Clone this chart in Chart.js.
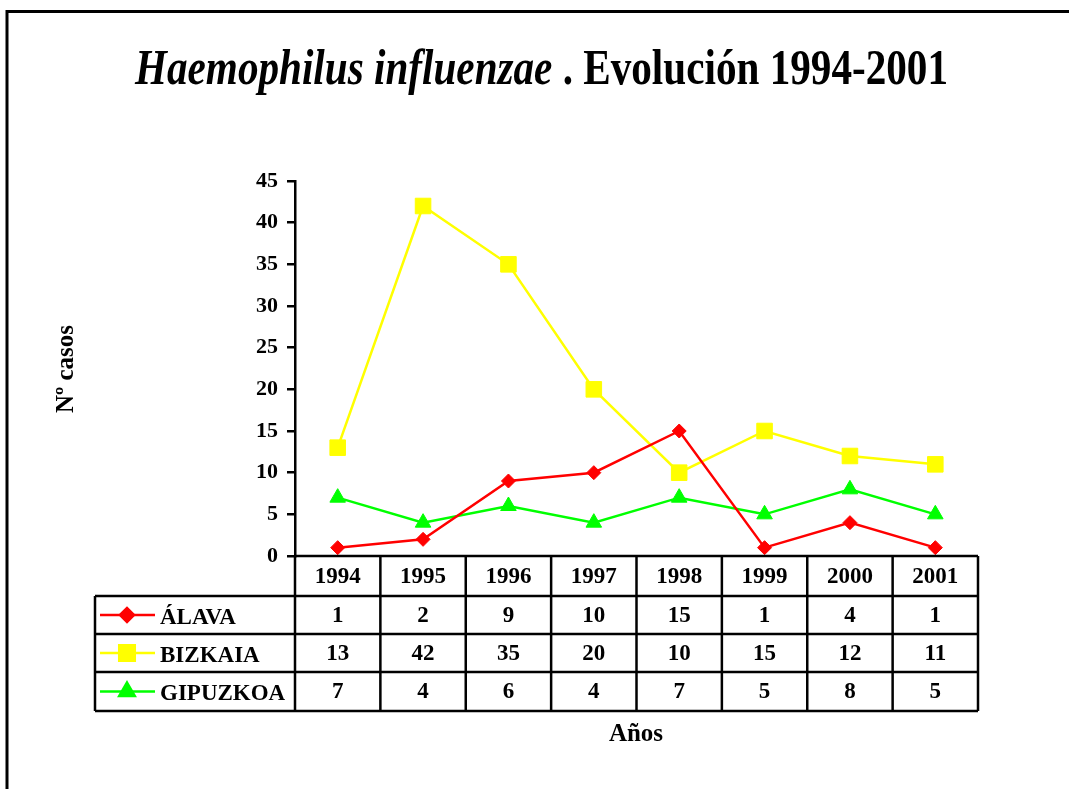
<!DOCTYPE html>
<html lang="es">
<head>
<meta charset="utf-8">
<title>Haemophilus influenzae. Evolución 1994-2001</title>
<script src="https://cdn.jsdelivr.net/npm/chart.js@4/dist/chart.umd.min.js"></script>
<style>
  html, body { margin: 0; padding: 0; background: #fff; }
  #wrap { width: 1069px; height: 789px; position: relative; }
</style>
</head>
<body>
<div id="wrap"><canvas id="grafico"></canvas></div>
<script>
const anios = ['1994', '1995', '1996', '1997', '1998', '1999', '2000', '2001'];
const alava = [1, 2, 9, 10, 15, 1, 4, 1];
const bizkaia = [13, 42, 35, 20, 10, 15, 12, 11];
const gipuzkoa = [7, 4, 6, 4, 7, 5, 8, 5];
const territorios = ['ÁLAVA', 'BIZKAIA', 'GIPUZKOA'];

const colores = ['#ff0000', '#ffff00', '#00ff00'];
const marcadores = ['rectRot', 'rect', 'triangle'];
const radios = [7, 11, 9];
const fuente = '"Liberation Serif", "Times New Roman", serif';

// Tabla de datos, leyenda, títulos y marco dibujados debajo del gráfico
const tablaDatos = {
    id: 'tablaDatos',
    afterDraw(chart) {
        const ctx = chart.ctx;
        const x = chart.scales.x;
        const area = chart.chartArea;
        const paso = (area.right - area.left) / anios.length;
        const izq = 95;
        const filas = [area.bottom, 596, 634, 672, 711];
        const valores = [alava, bizkaia, gipuzkoa];

        ctx.save();
        ctx.strokeStyle = '#000';
        ctx.lineWidth = 2.5;

        // líneas horizontales
        ctx.beginPath();
        ctx.moveTo(area.left, filas[0]); ctx.lineTo(area.right, filas[0]);
        for (let i = 1; i < filas.length; i++) {
            ctx.moveTo(izq, filas[i]); ctx.lineTo(area.right, filas[i]);
        }
        // líneas verticales
        ctx.moveTo(izq, filas[1]); ctx.lineTo(izq, filas[4]);
        for (let i = 0; i <= anios.length; i++) {
            const xx = area.left + i * paso;
            ctx.moveTo(xx, filas[0]); ctx.lineTo(xx, filas[4]);
        }
        ctx.stroke();

        // textos de la tabla
        ctx.fillStyle = '#000';
        ctx.font = 'bold 23px ' + fuente;
        ctx.textAlign = 'center';
        ctx.textBaseline = 'middle';
        anios.forEach((a, i) => {
            const cx = x.getPixelForValue(i);
            ctx.fillText(a, cx, (filas[0] + filas[1]) / 2 + 1);
            valores.forEach((serie, j) => {
                ctx.fillText(String(serie[i]), cx, (filas[j + 1] + filas[j + 2]) / 2 + 1);
            });
        });

        // leyenda dentro de la tabla
        territorios.forEach((nombre, j) => {
            const cy = (filas[j + 1] + filas[j + 2]) / 2;
            ctx.strokeStyle = colores[j];
            ctx.lineWidth = 2.5;
            ctx.beginPath();
            ctx.moveTo(100, cy); ctx.lineTo(155, cy);
            ctx.stroke();
            ctx.fillStyle = colores[j];
            Chart.helpers.drawPoint(ctx, {
                pointStyle: marcadores[j], radius: radios[j], rotation: 0, borderWidth: 1
            }, 127, cy);
            ctx.fillStyle = '#000';
            ctx.textAlign = 'left';
            ctx.fillText(nombre, 160, cy + 3);
        });

        // título de ejes
        ctx.font = 'bold 25px ' + fuente;
        ctx.textAlign = 'center';
        ctx.fillText('Años', 636, 735);
        ctx.save();
        ctx.translate(67, 369);
        ctx.rotate(-Math.PI / 2);
        ctx.fillText('Nº casos', 0, 0);
        ctx.restore();

        // título principal
        const parte1 = 'Haemophilus influenzae';
        const parte2 = ' . Evolución 1994-2001';
        ctx.textAlign = 'left';
        ctx.textBaseline = 'alphabetic';
        ctx.font = 'italic bold 50px ' + fuente;
        const w1 = ctx.measureText(parte1).width;
        ctx.font = 'bold 50px ' + fuente;
        const w2 = ctx.measureText(parte2).width;
        const escala = 813 / (w1 + w2);
        ctx.save();
        ctx.translate(135, 84);
        ctx.scale(escala, 1);
        ctx.font = 'italic bold 50px ' + fuente;
        ctx.fillText(parte1, 0, 0);
        ctx.font = 'bold 50px ' + fuente;
        ctx.fillText(parte2, w1, 0);
        ctx.restore();

        // marco
        ctx.strokeStyle = '#000';
        ctx.lineWidth = 3;
        ctx.beginPath();
        ctx.moveTo(7, chart.height);
        ctx.lineTo(7, 11.5);
        ctx.lineTo(chart.width, 11.5);
        ctx.stroke();
        ctx.restore();
    }
};

function crearSerie(etiqueta, datos, i) {
    return {
        label: etiqueta,
        data: datos,
        borderColor: colores[i],
        backgroundColor: colores[i],
        borderWidth: 2.5,
        pointStyle: marcadores[i],
        pointRadius: radios[i],
        pointHoverRadius: radios[i],
        pointBorderWidth: 1,
        tension: 0,
        clip: false
    };
}

new Chart(document.getElementById('grafico'), {
    type: 'line',
    data: {
        labels: anios,
        datasets: [
            crearSerie(territorios[0], alava, 0),
            crearSerie(territorios[1], bizkaia, 1),
            crearSerie(territorios[2], gipuzkoa, 2)
        ]
    },
    options: {
        responsive: true,
        maintainAspectRatio: false,
        animation: false,
        devicePixelRatio: 1,
        layout: { padding: { left: 0, right: 91, top: 181, bottom: 233 } },
        plugins: {
            legend: { display: false },
            tooltip: { enabled: false },
            title: { display: false }
        },
        scales: {
            x: {
                display: false,
                offset: true
            },
            y: {
                min: 0,
                max: 45,
                afterFit(scale) { scale.width = 295; },
                ticks: {
                    stepSize: 5,
                    color: '#000',
                    padding: 9,
                    font: { family: fuente, size: 22, weight: 'bold' }
                },
                grid: {
                    drawOnChartArea: false,
                    drawTicks: true,
                    tickLength: 8,
                    color: '#000',
                    lineWidth: 2.5
                },
                border: { display: true, color: '#000', width: 2.5 }
            }
        }
    },
    plugins: [tablaDatos]
});
</script>
</body>
</html>
